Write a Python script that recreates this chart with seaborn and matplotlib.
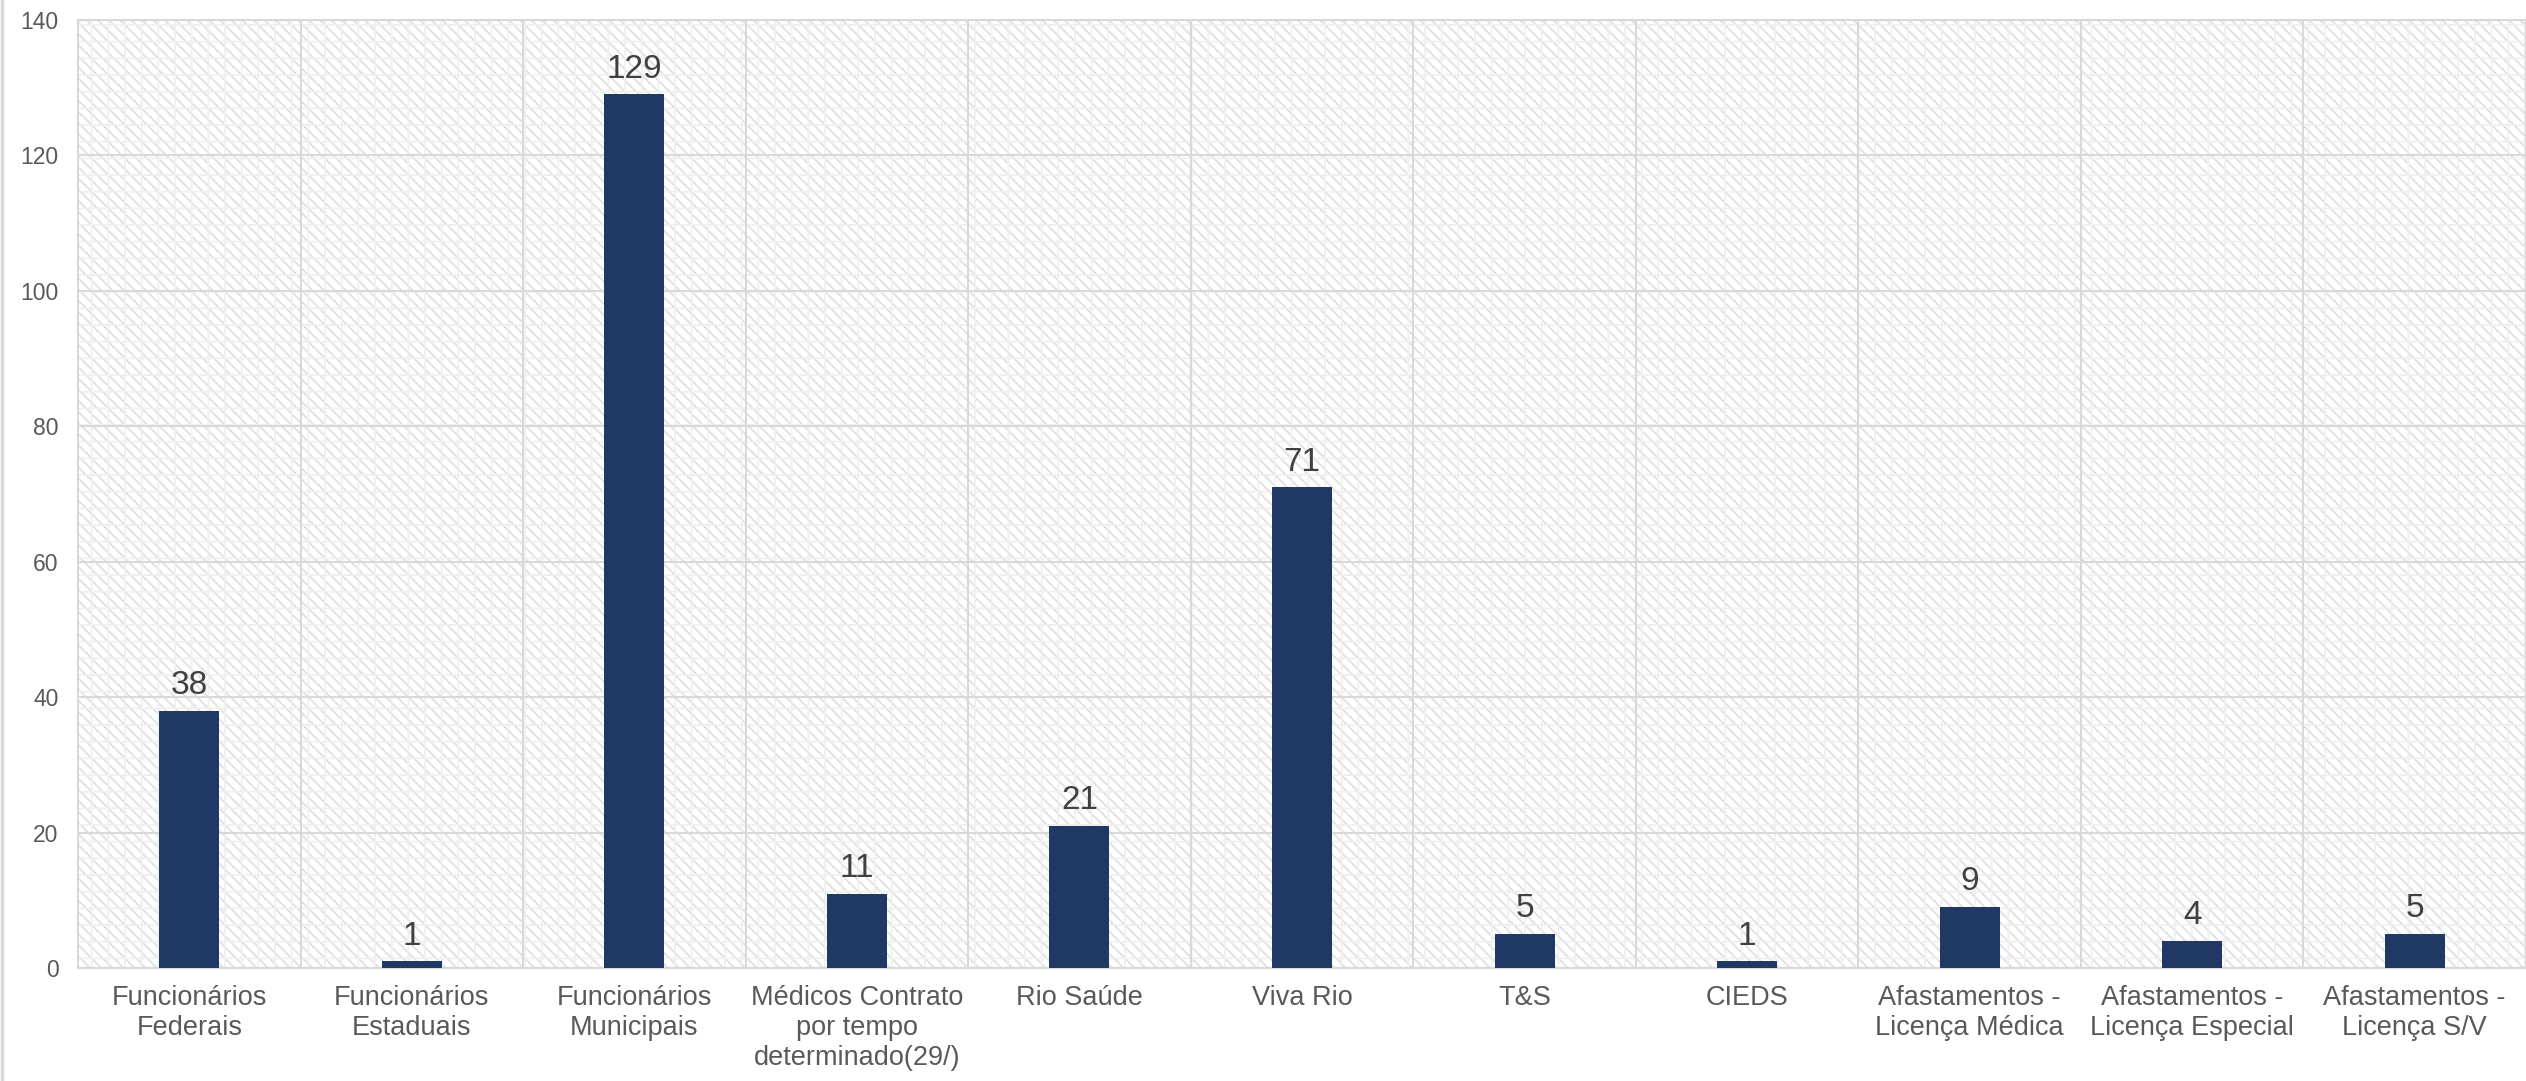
import numpy as np
import matplotlib
matplotlib.use('Agg')
import matplotlib.pyplot as plt
import seaborn as sns
from matplotlib.lines import Line2D
from matplotlib.patches import Rectangle

# Data
categories = ['Funcionários\nFederais', 'Funcionários\nEstaduais', 'Funcionários\nMunicipais',
              'Médicos Contrato\npor tempo\ndeterminado(29/)', 'Rio Saúde', 'Viva Rio', 'T&S',
              'CIEDS', 'Afastamentos -\nLicença Médica', 'Afastamentos -\nLicença Especial',
              'Afastamentos -\nLicença S/V']
values = [38, 1, 129, 11, 21, 71, 5, 1, 9, 4, 5]
y_ticks = [0, 20, 40, 60, 80, 100, 120, 140]

bar_color = '#203864'
grid_color = '#d9d9d9'
text_color = '#595959'

plt.rcParams['font.family'] = ['Liberation Sans', 'DejaVu Sans']
plt.rcParams['hatch.linewidth'] = 1.3

fig = plt.figure(figsize=(25.26, 10.81), dpi=100)
ax = fig.add_axes([78 / 2526, 1 - 968 / 1081, 1 - 78 / 2526, (968 - 20) / 1081])

sns.barplot(x=categories, y=values, color=bar_color, width=0.27, saturation=1, ax=ax, zorder=3)

# hatched background like the original
ax.patch.set_facecolor('white')
ax.patch.set_hatch('\\\\\\')
ax.patch.set_edgecolor('#e0e0e0')
ax.patch.set_linewidth(0)
# faint dotted grid in the pattern
ax.add_patch(Rectangle((0, 0), 1, 1, transform=ax.transAxes, facecolor='none',
                       edgecolor='#f0f0f0', hatch='+', linewidth=0, zorder=0.5))

ax.set_ylim(0, 140)
ax.set_xlim(-0.5, len(categories) - 0.5)
ax.set_yticks(y_ticks)
ax.set_xticks(np.arange(0.5, len(categories) - 0.5), minor=True)

ax.set_axisbelow(True)
ax.grid(axis='y', which='major', color=grid_color, linewidth=1.5)
ax.grid(axis='x', which='minor', color=grid_color, linewidth=1.5)
ax.grid(axis='x', which='major', visible=False)

for side in ['top', 'right', 'left', 'bottom']:
    ax.spines[side].set_color(grid_color)
    ax.spines[side].set_linewidth(1.5)

ax.tick_params(axis='y', length=0, pad=14, labelsize=16.5, labelcolor=text_color)
ax.tick_params(axis='x', which='both', length=0, pad=12, labelsize=19.5, labelcolor=text_color)
ax.set_xlabel('')
ax.set_ylabel('')

ax.bar_label(ax.containers[0], padding=7, fontsize=24, color='#404040')

# thin border on the left of the picture
fig.add_artist(Line2D([2 / 2526, 2 / 2526], [0, 1], color=grid_color, linewidth=2.5,
                      transform=fig.transFigure))

fig.savefig('out.png', dpi=100)
